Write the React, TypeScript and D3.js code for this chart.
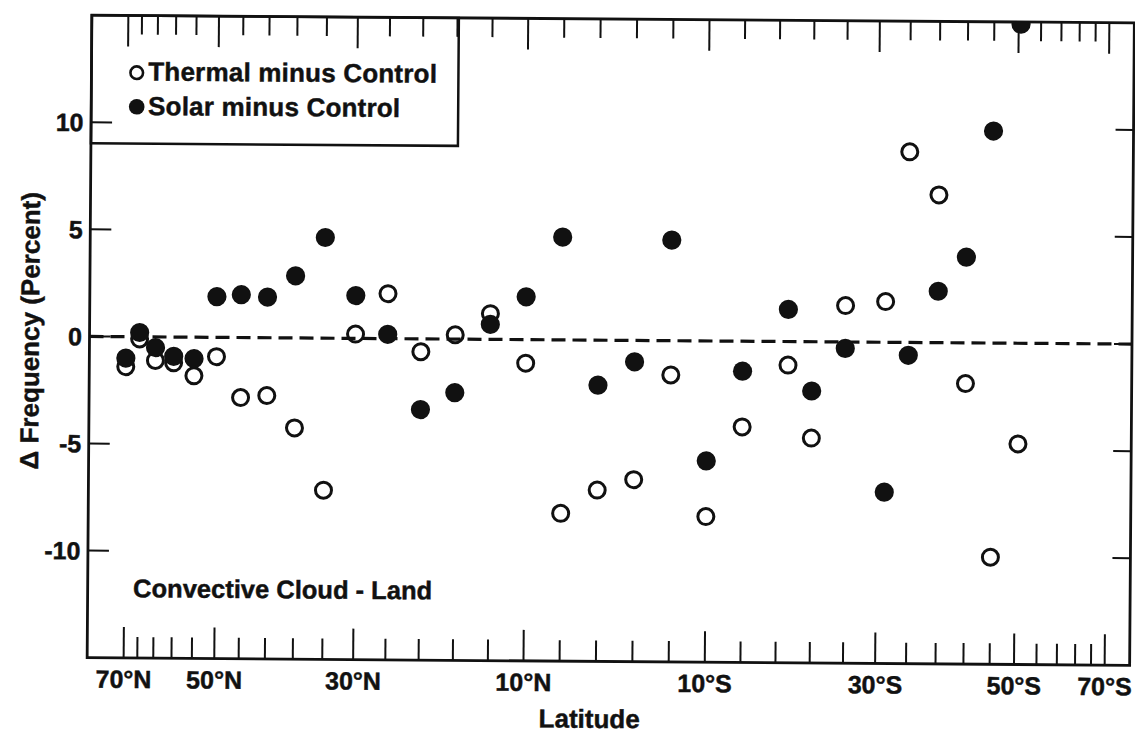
import React from 'react';
import * as d3 from 'd3';

// Latitude (degrees, + = N, - = S) at which each pair of points is plotted
const latitudes = [70, 66, 62, 58, 54, 50, 46, 42, 38, 34, 30, 26, 22, 18, 14, 10, 6, 2, -2, -6, -10, -14, -19.2, -22, -26, -31, -34, -38, -42, -46, -50.4];
// Δ Frequency (percent)
const thermalMinusControl = [-1.4, -0.1, -1.1, -1.2, -1.8, -0.9, -2.8, -2.7, -4.2, -7.1, 0.2, 2.1, -0.6, 0.2, 1.2, -1.1, -8.1, -7.0, -6.5, -1.6, -8.2, -4.0, -1.1, -4.5, 1.7, 1.9, 8.9, 6.9, -1.9, -10.0, -4.7];
const solarMinusControl = [-1.0, 0.2, -0.5, -0.9, -1.0, 1.9, 2.0, 1.9, 2.9, 4.7, 2.0, 0.2, -3.3, -2.5, 0.7, 2.0, 4.8, -2.1, -1.0, 4.7, -5.6, -1.4, 1.5, -2.3, -0.3, -7.0, -0.6, 2.4, 4.0, 9.9, 14.9];

const latTicks = [70, 66, 62, 58, 54, 50, 46, 42, 38, 34, 30, 26, 22, 18, 14, 10, 6, 2, -2, -6, -10, -14, -18, -22, -26, -30, -34, -38, -42, -46, -50, -54, -58, -62, -66, -70];
const majorLatTicks = [70, 50, 30, 10, -10, -30, -50, -70];
const majorLatLabels = ['70°N', '50°N', '30°N', '10°N', '10°S', '30°S', '50°S', '70°S'];
const yTicks = [-10, -5, 0, 5, 10];
const yTickLabels = ['-10', '-5', '0', '5', '10'];
const yDomain = [-15, 15];

const legendLabels = ['Thermal minus Control', 'Solar minus Control'];
const panelLabel = 'Convective Cloud - Land';
const xTitle = 'Latitude';
const yTitle = 'Δ Frequency (Percent)';

export default function App() {
  const W = 1135, H = 735;
  const left = 89.5, right = 1132;
  const y = d3.scaleLinear().domain(yDomain).range([661.5, 19]);
  const top = y(yDomain[1]);
  const bottom = y(yDomain[0]);
  const xs = d3.scaleLinear().domain([1, -1]).range([616.5 - 522, 616.5 + 522]);
  const x = (lat: number) => xs(Math.sin((lat * Math.PI) / 180));
  const isMajor = (lat: number) => majorLatTicks.includes(lat);
  const font = "'Liberation Sans', Arial, Helvetica, sans-serif";
  const ink = '#111';
  const heavy = { stroke: ink, strokeWidth: 0.45, paintOrder: 'stroke' as const };

  return (
    <svg width={W} height={H} style={{ position: 'absolute', left: 0, top: 0 }} fontFamily={font} fontWeight="bold">
      <defs>
        <clipPath id="plotClip">
          <rect x={left} y={top} width={right - left} height={bottom - top} />
        </clipPath>
      </defs>
      <rect x={0} y={0} width={W} height={H} fill="#fff" />
      <g transform="rotate(0.42 610 340)">
        {/* zero line */}
        <line x1={left} x2={right} y1={y(0)} y2={y(0)} stroke={ink} strokeWidth={3.2} strokeDasharray="14 7" />

        {/* frame */}
        <rect x={left} y={top} width={right - left} height={bottom - top} fill="none" stroke={ink} strokeWidth={2.8} />

        {/* latitude ticks bottom & top */}
        {latTicks.map((lat) => (
          <g key={'t' + lat}>
            <line x1={x(lat)} x2={x(lat)} y1={bottom} y2={bottom - (isMajor(lat) ? 31 : 21)} stroke={ink} strokeWidth={2} />
            <line x1={x(lat)} x2={x(lat)} y1={top} y2={top + (isMajor(lat) ? 31 : 19)} stroke={ink} strokeWidth={2} />
          </g>
        ))}

        {/* y ticks left & right */}
        {yTicks.map((v) => (
          <g key={'y' + v}>
            <line x1={left} x2={left + 21} y1={y(v)} y2={y(v)} stroke={ink} strokeWidth={2} />
            <line x1={right} x2={right - 18} y1={y(v)} y2={y(v)} stroke={ink} strokeWidth={2} />
          </g>
        ))}

        {/* y tick labels */}
        {yTicks.map((v, i) => (
          <text key={'yl' + v} x={82} y={y(v) + 9} textAnchor="end" fontSize={25} fill={ink} {...heavy}>
            {yTickLabels[i]}
          </text>
        ))}

        {/* x tick labels */}
        {majorLatTicks.map((lat, i) => (
          <text key={'xl' + lat} x={x(lat)} y={691.5} textAnchor="middle" fontSize={25} fill={ink} {...heavy}>
            {majorLatLabels[i]}
          </text>
        ))}

        {/* legend box */}
        <rect x={left} y={top} width={456.5 - left} height={147 - top} fill="none" stroke={ink} strokeWidth={2.5} />
        <circle cx={134.8} cy={76.2} r={6.3} fill="none" stroke={ink} strokeWidth={2.6} />
        <text x={146.4} y={84} fontSize={26} fill={ink} letterSpacing={0.2} {...heavy}>{legendLabels[0]}</text>
        <circle cx={135} cy={110.3} r={7.8} fill={ink} />
        <text x={146.4} y={118.5} fontSize={26} fill={ink} letterSpacing={0.2} {...heavy}>{legendLabels[1]}</text>

        {/* panel label */}
        <text x={135} y={600.7} fontSize={25.5} fill={ink} {...heavy}>{panelLabel}</text>

        {/* data */}
        <g clipPath="url(#plotClip)">
          {latitudes.map((lat, i) => (
            <circle key={'th' + i} cx={x(lat)} cy={y(thermalMinusControl[i])} r={8} fill="none" stroke={ink} strokeWidth={3} />
          ))}
          {latitudes.map((lat, i) => (
            <circle key={'so' + i} cx={x(lat)} cy={y(solarMinusControl[i])} r={9.6} fill={ink} />
          ))}
        </g>

        {/* axis titles */}
        <text x={592} y={728} textAnchor="middle" fontSize={26} fill={ink} {...heavy}>{xTitle}</text>
        <text transform="translate(39,335) rotate(-90)" textAnchor="middle" fontSize={26} fill={ink} {...heavy}>{yTitle}</text>
      </g>
    </svg>
  );
}
